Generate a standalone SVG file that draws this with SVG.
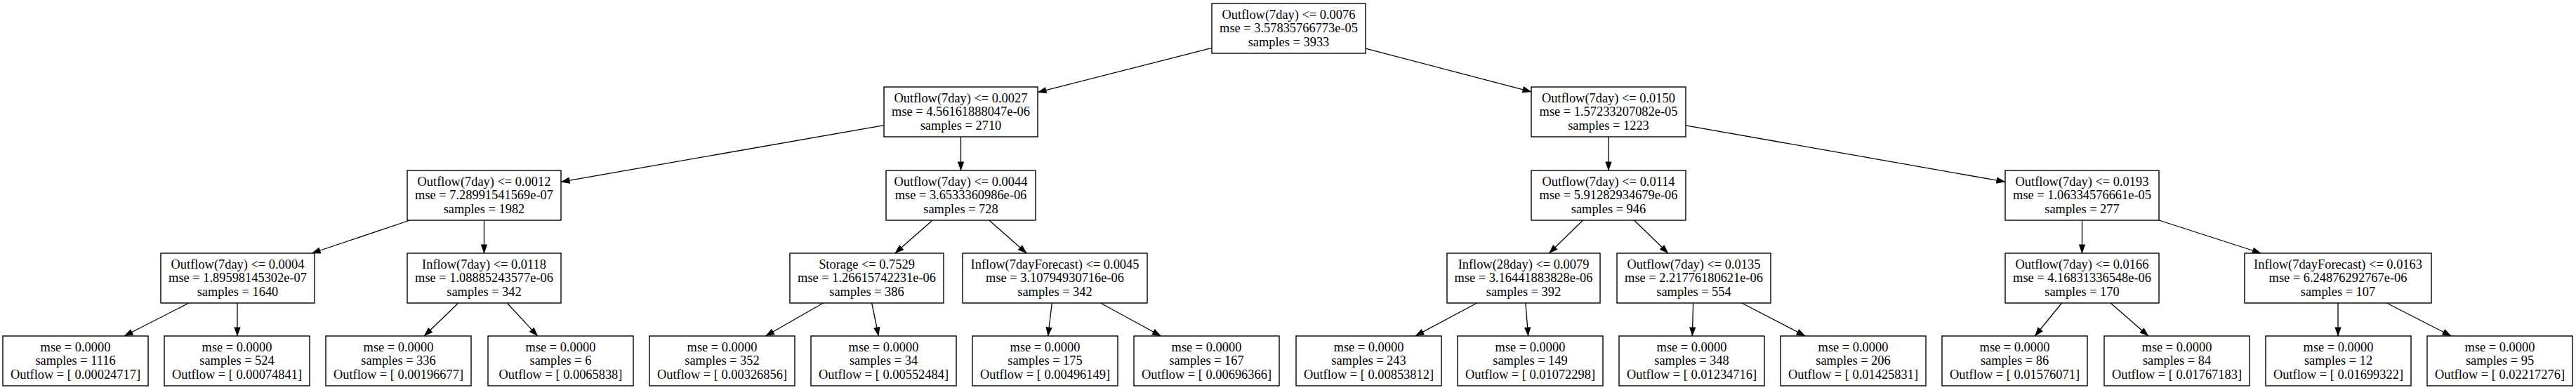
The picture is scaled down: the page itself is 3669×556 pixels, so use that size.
<svg xmlns="http://www.w3.org/2000/svg" width="3669" height="556" viewBox="0 0 3669 556">
<style>
rect.n{fill:#fff;stroke:#000;stroke-width:1.4}
text{font-family:"Liberation Serif","Times New Roman",serif;font-size:18.4px;fill:#000;text-anchor:middle}
.e line{stroke:#000;stroke-width:1.3;fill:none;marker-end:url(#arr)}
</style>
<defs>
<marker id="arr" markerUnits="userSpaceOnUse" markerWidth="13" markerHeight="9.4" viewBox="0 0 13 9.4" refX="12.5" refY="4.7" orient="auto" overflow="visible">
<path d="M0,0 L13,4.7 L0,9.4 Z" fill="#000"/>
</marker>
</defs>
<rect width="3669" height="556" fill="#fff"/>
<g id="edges" class="e">
<line x1="1726" y1="68.4" x2="1478" y2="131.6"/>
<line x1="1945" y1="69.1" x2="2181" y2="130.8"/>
<line x1="1259" y1="178.7" x2="799" y2="259.3"/>
<line x1="1368.5" y1="195" x2="1368.5" y2="243"/>
<line x1="2291" y1="195" x2="2291" y2="243"/>
<line x1="2401" y1="178.9" x2="2856" y2="259.2"/>
<line x1="583.9" y1="314" x2="444.1" y2="361"/>
<line x1="689.5" y1="314" x2="689.5" y2="361"/>
<line x1="1328.2" y1="314" x2="1274.8" y2="361"/>
<line x1="1408.8" y1="314" x2="1462.2" y2="361"/>
<line x1="2254.6" y1="314" x2="2206.4" y2="361"/>
<line x1="2327.5" y1="314" x2="2376" y2="361"/>
<line x1="2965.5" y1="314" x2="2965.5" y2="361"/>
<line x1="3075.1" y1="314" x2="3220.4" y2="361"/>
<line x1="269" y1="432" x2="177" y2="479"/>
<line x1="338" y1="432" x2="338" y2="479"/>
<line x1="652.8" y1="432" x2="604.2" y2="479"/>
<line x1="722.3" y1="432" x2="765.7" y2="479"/>
<line x1="1172.5" y1="432" x2="1090.5" y2="479"/>
<line x1="1241.7" y1="432" x2="1251.3" y2="479"/>
<line x1="1498.3" y1="432" x2="1492.7" y2="479"/>
<line x1="1567.5" y1="432" x2="1653.5" y2="479"/>
<line x1="2103.7" y1="432" x2="2015.8" y2="479"/>
<line x1="2172.9" y1="432" x2="2176.6" y2="479"/>
<line x1="2411.6" y1="432" x2="2410.4" y2="479"/>
<line x1="2480.8" y1="432" x2="2571.2" y2="479"/>
<line x1="2936.6" y1="432" x2="2898.4" y2="479"/>
<line x1="3006.1" y1="432" x2="3059.9" y2="479"/>
<line x1="3330" y1="432" x2="3330" y2="479"/>
<line x1="3399.3" y1="432" x2="3491.2" y2="479"/>
</g>
<g id="node0"><rect class="n" x="1726" y="5" width="219" height="71"/><text x="1835.5" y="26.5">Outflow(7day) &lt;= 0.0076</text><text x="1835.5" y="46">mse = 3.57835766773e-05</text><text x="1835.5" y="65.5">samples = 3933</text></g>
<g id="node1"><rect class="n" x="1259" y="124" width="219" height="71"/><text x="1368.5" y="145.5">Outflow(7day) &lt;= 0.0027</text><text x="1368.5" y="165">mse = 4.56161888047e-06</text><text x="1368.5" y="184.5">samples = 2710</text></g>
<g id="node2"><rect class="n" x="2181" y="124" width="220" height="71"/><text x="2291" y="145.5">Outflow(7day) &lt;= 0.0150</text><text x="2291" y="165">mse = 1.57233207082e-05</text><text x="2291" y="184.5">samples = 1223</text></g>
<g id="node3"><rect class="n" x="580" y="243" width="219" height="71"/><text x="689.5" y="264.5">Outflow(7day) &lt;= 0.0012</text><text x="689.5" y="284">mse = 7.28991541569e-07</text><text x="689.5" y="303.5">samples = 1982</text></g>
<g id="node4"><rect class="n" x="1262" y="243" width="213" height="71"/><text x="1368.5" y="264.5">Outflow(7day) &lt;= 0.0044</text><text x="1368.5" y="284">mse = 3.6533360986e-06</text><text x="1368.5" y="303.5">samples = 728</text></g>
<g id="node5"><rect class="n" x="2181" y="243" width="220" height="71"/><text x="2291" y="264.5">Outflow(7day) &lt;= 0.0114</text><text x="2291" y="284">mse = 5.91282934679e-06</text><text x="2291" y="303.5">samples = 946</text></g>
<g id="node6"><rect class="n" x="2856" y="243" width="219" height="71"/><text x="2965.5" y="264.5">Outflow(7day) &lt;= 0.0193</text><text x="2965.5" y="284">mse = 1.06334576661e-05</text><text x="2965.5" y="303.5">samples = 277</text></g>
<g id="node7"><rect class="n" x="229" y="361" width="219" height="71"/><text x="338.5" y="382.5">Outflow(7day) &lt;= 0.0004</text><text x="338.5" y="402">mse = 1.89598145302e-07</text><text x="338.5" y="421.5">samples = 1640</text></g>
<g id="node8"><rect class="n" x="580" y="361" width="219" height="71"/><text x="689.5" y="382.5">Inflow(7day) &lt;= 0.0118</text><text x="689.5" y="402">mse = 1.08885243577e-06</text><text x="689.5" y="421.5">samples = 342</text></g>
<g id="node9"><rect class="n" x="1125" y="361" width="219" height="71"/><text x="1234.5" y="382.5">Storage &lt;= 0.7529</text><text x="1234.5" y="402">mse = 1.26615742231e-06</text><text x="1234.5" y="421.5">samples = 386</text></g>
<g id="node10"><rect class="n" x="1371" y="361" width="263" height="71"/><text x="1502.5" y="382.5">Inflow(7dayForecast) &lt;= 0.0045</text><text x="1502.5" y="402">mse = 3.10794930716e-06</text><text x="1502.5" y="421.5">samples = 342</text></g>
<g id="node11"><rect class="n" x="2061" y="361" width="218" height="71"/><text x="2170" y="382.5">Inflow(28day) &lt;= 0.0079</text><text x="2170" y="402">mse = 3.16441883828e-06</text><text x="2170" y="421.5">samples = 392</text></g>
<g id="node12"><rect class="n" x="2303" y="361" width="219" height="71"/><text x="2412.5" y="382.5">Outflow(7day) &lt;= 0.0135</text><text x="2412.5" y="402">mse = 2.21776180621e-06</text><text x="2412.5" y="421.5">samples = 554</text></g>
<g id="node13"><rect class="n" x="2856" y="361" width="219" height="71"/><text x="2965.5" y="382.5">Outflow(7day) &lt;= 0.0166</text><text x="2965.5" y="402">mse = 4.16831336548e-06</text><text x="2965.5" y="421.5">samples = 170</text></g>
<g id="node14"><rect class="n" x="3197" y="361" width="266" height="71"/><text x="3330" y="382.5">Inflow(7dayForecast) &lt;= 0.0163</text><text x="3330" y="402">mse = 6.24876292767e-06</text><text x="3330" y="421.5">samples = 107</text></g>
<g id="leaf0"><rect class="n" x="4" y="479" width="207" height="71"/><text x="107.5" y="500.5">mse = 0.0000</text><text x="107.5" y="520">samples = 1116</text><text x="107.5" y="539.5">Outflow = [ 0.00024717]</text></g>
<g id="leaf1"><rect class="n" x="234" y="479" width="207" height="71"/><text x="337.5" y="500.5">mse = 0.0000</text><text x="337.5" y="520">samples = 524</text><text x="337.5" y="539.5">Outflow = [ 0.00074841]</text></g>
<g id="leaf2"><rect class="n" x="464" y="479" width="207" height="71"/><text x="567.5" y="500.5">mse = 0.0000</text><text x="567.5" y="520">samples = 336</text><text x="567.5" y="539.5">Outflow = [ 0.00196677]</text></g>
<g id="leaf3"><rect class="n" x="695" y="479" width="207" height="71"/><text x="798.5" y="500.5">mse = 0.0000</text><text x="798.5" y="520">samples = 6</text><text x="798.5" y="539.5">Outflow = [ 0.0065838]</text></g>
<g id="leaf4"><rect class="n" x="925" y="479" width="207" height="71"/><text x="1028.5" y="500.5">mse = 0.0000</text><text x="1028.5" y="520">samples = 352</text><text x="1028.5" y="539.5">Outflow = [ 0.00326856]</text></g>
<g id="leaf5"><rect class="n" x="1155" y="479" width="207" height="71"/><text x="1258.5" y="500.5">mse = 0.0000</text><text x="1258.5" y="520">samples = 34</text><text x="1258.5" y="539.5">Outflow = [ 0.00552484]</text></g>
<g id="leaf6"><rect class="n" x="1385" y="479" width="207" height="71"/><text x="1488.5" y="500.5">mse = 0.0000</text><text x="1488.5" y="520">samples = 175</text><text x="1488.5" y="539.5">Outflow = [ 0.00496149]</text></g>
<g id="leaf7"><rect class="n" x="1615" y="479" width="207" height="71"/><text x="1718.5" y="500.5">mse = 0.0000</text><text x="1718.5" y="520">samples = 167</text><text x="1718.5" y="539.5">Outflow = [ 0.00696366]</text></g>
<g id="leaf8"><rect class="n" x="1846" y="479" width="207" height="71"/><text x="1949.5" y="500.5">mse = 0.0000</text><text x="1949.5" y="520">samples = 243</text><text x="1949.5" y="539.5">Outflow = [ 0.00853812]</text></g>
<g id="leaf9"><rect class="n" x="2076" y="479" width="207" height="71"/><text x="2179.5" y="500.5">mse = 0.0000</text><text x="2179.5" y="520">samples = 149</text><text x="2179.5" y="539.5">Outflow = [ 0.01072298]</text></g>
<g id="leaf10"><rect class="n" x="2306" y="479" width="207" height="71"/><text x="2409.5" y="500.5">mse = 0.0000</text><text x="2409.5" y="520">samples = 348</text><text x="2409.5" y="539.5">Outflow = [ 0.01234716]</text></g>
<g id="leaf11"><rect class="n" x="2536" y="479" width="207" height="71"/><text x="2639.5" y="500.5">mse = 0.0000</text><text x="2639.5" y="520">samples = 206</text><text x="2639.5" y="539.5">Outflow = [ 0.01425831]</text></g>
<g id="leaf12"><rect class="n" x="2766" y="479" width="207" height="71"/><text x="2869.5" y="500.5">mse = 0.0000</text><text x="2869.5" y="520">samples = 86</text><text x="2869.5" y="539.5">Outflow = [ 0.01576071]</text></g>
<g id="leaf13"><rect class="n" x="2997" y="479" width="207" height="71"/><text x="3100.5" y="500.5">mse = 0.0000</text><text x="3100.5" y="520">samples = 84</text><text x="3100.5" y="539.5">Outflow = [ 0.01767183]</text></g>
<g id="leaf14"><rect class="n" x="3227" y="479" width="207" height="71"/><text x="3330.5" y="500.5">mse = 0.0000</text><text x="3330.5" y="520">samples = 12</text><text x="3330.5" y="539.5">Outflow = [ 0.01699322]</text></g>
<g id="leaf15"><rect class="n" x="3457" y="479" width="207" height="71"/><text x="3560.5" y="500.5">mse = 0.0000</text><text x="3560.5" y="520">samples = 95</text><text x="3560.5" y="539.5">Outflow = [ 0.02217276]</text></g>
</svg>
